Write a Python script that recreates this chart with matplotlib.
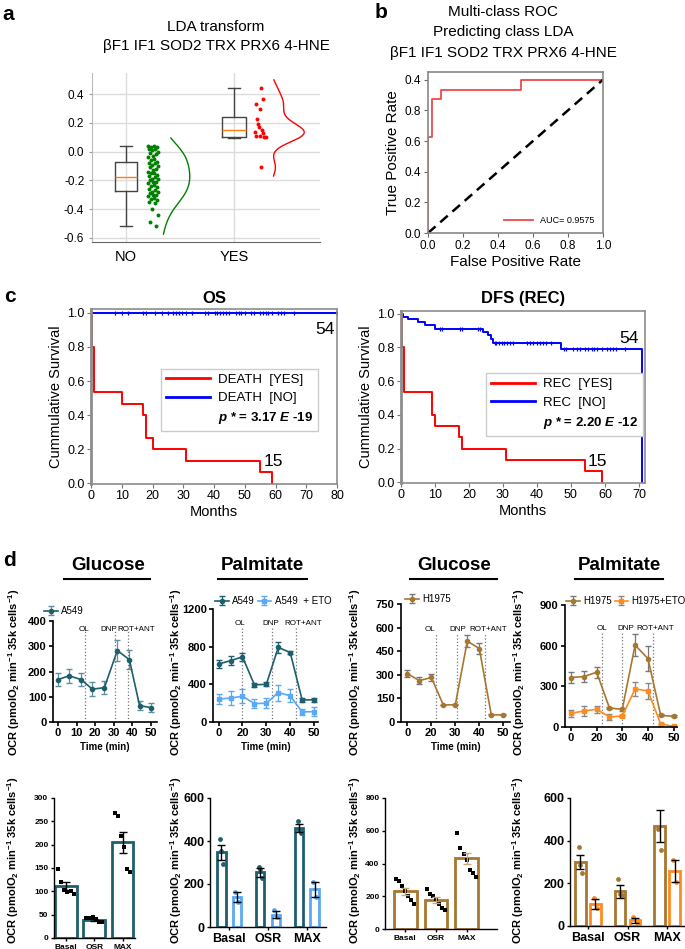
import numpy as np
import matplotlib
matplotlib.use('Agg')
import matplotlib.pyplot as plt
from matplotlib.lines import Line2D

plt.rcParams['font.family'] = ['Liberation Sans', 'DejaVu Sans']
plt.rcParams['axes.unicode_minus'] = False
plt.rcParams['mathtext.fontset'] = 'custom'
plt.rcParams['mathtext.rm'] = 'Liberation Sans'
plt.rcParams['mathtext.it'] = 'Liberation Sans:italic'
plt.rcParams['mathtext.bf'] = 'Liberation Sans:bold'
plt.rcParams['mathtext.bfit'] = 'Liberation Sans:italic:bold'

# ---------------- data ----------------
# a: LDA transform
lda_no = [0.04, 0.04, 0.03, 0.03, 0.02, 0.02, 0.01, 0.00, -0.01, -0.02, -0.03, -0.04,
          -0.05, -0.06, -0.07, -0.08, -0.08, -0.09, -0.10, -0.11, -0.12, -0.13, -0.14,
          -0.15, -0.15, -0.16, -0.17, -0.18, -0.19, -0.19, -0.20, -0.21, -0.21, -0.22,
          -0.23, -0.24, -0.25, -0.26, -0.27, -0.28, -0.28, -0.29, -0.30, -0.30, -0.31,
          -0.32, -0.33, -0.34, -0.35, -0.36, -0.40, -0.44, -0.49, -0.52]
lda_yes = [0.44, 0.37, 0.33, 0.30, 0.23, 0.19, 0.17, 0.15, 0.14, 0.13, 0.11, 0.11,
           0.10, 0.10, -0.11]
box_groups = ['NO', 'YES']
box_med = [-0.178, 0.151]
box_q1 = [-0.277, 0.105]
box_q3 = [-0.074, 0.244]
box_lo = [-0.521, 0.098]
box_hi = [0.040, 0.442]

# b: ROC
roc_fpr = [0, 0, 0.02, 0.02, 0.075, 0.075, 0.53, 0.53, 1.0]
roc_tpr = [0, 0.625, 0.625, 0.875, 0.875, 0.935, 0.935, 1.0, 1.0]

# c: Kaplan-Meier
os_yes_t = [0, 0.3, 1.1, 10, 17, 18, 20, 31, 55, 59]
os_yes_s = [1.0, 0.8, 0.533, 0.467, 0.4, 0.267, 0.2, 0.133, 0.067, 0.0]
os_no_t = [0, 80]
os_no_s = [1.0, 1.0]
os_no_cens = [7.8, 10, 11.9, 16.8, 17.8, 20.8, 23, 25, 26.8, 27.7, 28.7, 29.7, 30.8, 33,
              37.1, 38, 40.2, 41.1, 42, 42.9, 43.9, 44.9, 47, 48, 48.8, 50.1, 52, 53.1,
              54.8, 55.8, 56.9, 57.7, 58.8, 60.9, 61.9, 62.8, 65.9, 80]
dfs_yes_t = [0, 0.3, 1.0, 9, 10, 17, 18, 31, 54, 59]
dfs_yes_s = [1.0, 0.8, 0.533, 0.4, 0.333, 0.267, 0.2, 0.133, 0.067, 0.0]
dfs_no_t = [0, 0.5, 2.2, 5, 7, 10, 24, 25.7, 26.5, 27, 47, 71]
dfs_no_s = [1.0, 0.982, 0.967, 0.952, 0.935, 0.911, 0.893, 0.872, 0.85, 0.828, 0.79, 0.0]
dfs_no_cens = [11.5, 12, 17.4, 18, 22.7, 23.2, 27.6, 28.1, 28.9, 29.6, 30.4, 31.1, 32, 33,
               37, 37.9, 38.9, 39.9, 40.9, 41.9, 42.8, 44, 47.9, 48.7, 50.7, 51.9, 52.8,
               54.1, 55.1, 56.1, 56.9, 57.7, 59, 60.5, 61.5, 62.3, 63.2, 65.9]

# d: OCR time courses
g_a549_t = [0, 6, 12.5, 18.5, 25, 32, 38.5, 44, 50]
g_a549 = [168, 183, 168, 130, 136, 283, 247, 65, 57]
g_a549_e = [27, 28, 25, 27, 25, 43, 37, 18, 18]

p_a549 = [616, 651, 692, 395, 400, 792, 738, 235, 235]
p_a549_e = [45, 45, 45, 20, 20, 60, 12, 25, 25]
p_a549_eto = [245, 253, 274, 196, 199, 313, 278, 107, 110]
p_a549_eto_e = [55, 75, 75, 50, 55, 85, 70, 35, 45]

g_h1975 = [308, 263, 283, 108, 110, 514, 467, 45, 45]
g_h1975_e = [25, 20, 25, 3, 3, 38, 33, 3, 3]

p_h1975 = [365, 372, 404, 140, 131, 604, 505, 86, 79]
p_h1975_e = [40, 40, 40, 10, 10, 80, 90, 8, 8]
p_h1975_eto = [101, 118, 131, 74, 81, 281, 266, 22, 5]
p_h1975_eto_e = [25, 35, 25, 25, 10, 50, 60, 5, 5]

time_ticks = ['0', '20', '30', '40', '50']

# d: OCR summary bars
phases = ['Basal', 'OSR', 'MAX']
gb_a549 = [111, 39, 205]
gb_a549_e = [9, 2, 23]
gb_a549_pts = [[148, 121, 103, 99, 101, 94], [42, 43, 44, 40, 35, 34],
               [268, 262, 218, 196, 148, 141]]

pb_a549 = [347, 254, 460]
pb_a549_e = [35, 20, 18]
pb_a549_pts = [[408, 354, 291], [280, 268, 226], [491, 452, 436]]
pb_eto = [140, 58, 175]
pb_eto_e = [25, 17, 35]
pb_eto_pts = [[164, 117], [78, 47], [210, 140]]

gb_h1975 = [230, 177, 432]
gb_h1975_e = [22, 18, 35]
gb_h1975_pts = [[305, 295, 260, 235, 200, 175, 150], [243, 212, 200, 185, 155, 128, 118],
                [585, 495, 455, 420, 360, 340, 318]]

pb_h1975 = [300, 163, 470]
pb_h1975_e = [35, 30, 75]
pb_h1975_pts = [[368, 285, 250], [222, 150, 145], [455, 355]]
pb_h_eto = [103, 27, 258]
pb_h_eto_e = [22, 12, 50]
pb_h_eto_pts = [[130, 85], [40, 18], [310, 207]]

# ---------------- layout helpers ----------------
W, H = 685, 949
fig = plt.figure(figsize=(W / 100, H / 100), dpi=100)


def box(l, t, r, b):
    return fig.add_axes([l / W, 1 - b / H, (r - l) / W, (b - t) / H])


def ftext(x, y, s, **kw):
    kw.setdefault('ha', 'center')
    kw.setdefault('va', 'center')
    return fig.text(x / W, 1 - y / H, s, **kw)


def fline(x0, x1, y, lw=1.5):
    fig.add_artist(Line2D([x0 / W, x1 / W], [1 - y / H, 1 - y / H], color='black', lw=lw))


teal = '#1e5f6c'
lblue = '#5aa9f2'
brown = '#a8772f'
orange = '#ff8b1f'
ocr_label = r'OCR (pmolO$_{\mathbf{2}}$ min$^{\mathbf{-1}}$ 35k cells$^{\mathbf{-1}}$)'

# panel letters
ftext(8, 15, 'a', fontsize=15, fontweight='bold')
ftext(381, 13, 'b', fontsize=15, fontweight='bold')
ftext(10, 297, 'c', fontsize=15, fontweight='bold')
ftext(9, 560, 'd', fontsize=15, fontweight='bold')

# ---------------- a ----------------
ax = box(92, 73, 320, 242)
stats = []
for i in range(2):
    stats.append(dict(med=box_med[i], q1=box_q1[i], q3=box_q3[i],
                      whislo=box_lo[i], whishi=box_hi[i], fliers=[]))
ax.bxp(stats, positions=[0, 1], widths=[0.21, 0.22], showfliers=False, manage_ticks=False,
       boxprops=dict(color='#444444', lw=1), whiskerprops=dict(color='#444444', lw=1),
       capprops=dict(color='#444444', lw=1), medianprops=dict(color='#ff7f0e', lw=1))
jit_no = [0.20, 0.26, 0.23, 0.29, 0.21, 0.27, 0.24, 0.30, 0.22, 0.28, 0.25]
jit_yes = [1.25, 1.27, 1.20, 1.24, 1.21, 1.22, 1.23, 1.26, 1.19, 1.27, 1.20, 1.24, 1.28, 1.30, 1.25]
ax.scatter(np.resize(jit_no, len(lda_no)), lda_no, s=8, color='green', zorder=3, lw=0)
ax.scatter(jit_yes[:len(lda_yes)], lda_yes, s=8, color='red', zorder=3, lw=0)


def kde_curve(vals, lo, hi, bw, base, width, color):
    yy = np.linspace(lo, hi, 200)
    v = np.asarray(vals)
    d = np.exp(-0.5 * ((yy[:, None] - v[None, :]) / bw) ** 2).sum(axis=1)
    ax.plot(base + width * d / d.max(), yy, color=color, lw=1)


kde_curve(lda_no, -0.575, 0.095, 0.09, 0.325, 0.265, 'green')
kde_curve(lda_yes, -0.17, 0.50, 0.055, 1.345, 0.305, 'red')
ax.set_xlim(-0.315, 1.796)
ax.set_ylim(-0.63, 0.548)
ax.set_yticks([-0.6, -0.4, -0.2, 0.0, 0.2, 0.4])
ax.set_yticklabels(['-0.6', '-0.4', '-0.2', '0.0', '0.2', '0.4'])
ax.set_xticks([0, 1])
ax.set_xticklabels(box_groups, fontsize=10.5)
ax.grid(True, color='#dcdcdc', lw=1)
ax.set_axisbelow(True)
ax.tick_params(axis='y', labelsize=8.5, length=2, color='#999999')
ax.tick_params(axis='x', length=0, pad=6)
for s in ['top', 'right']:
    ax.spines[s].set_visible(False)
ax.spines['left'].set_color('#bbbbbb')
ax.spines['bottom'].set_color('#666666')
ftext(216, 27, 'LDA transform', fontsize=11)
ftext(216, 46, 'βF1 IF1 SOD2 TRX PRX6 4-HNE', fontsize=11)

# ---------------- b ----------------
ax = box(428, 72, 603, 233)
ax.plot(roc_fpr, roc_tpr, color='#ec4a4a', lw=1.3, label='AUC= 0.9575')
ax.plot([0, 1], [0, 1], '--', color='black', lw=1.8, dashes=(4, 2.5))
ax.set_xlim(0, 1.0)
ax.set_ylim(0, 1.05)
ax.set_xticks([0, 0.2, 0.4, 0.6, 0.8, 1.0])
ax.set_xticklabels(['0.0', '0.2', '0.4', '0.6', '0.8', '1.0'])
ax.set_yticks([0, 0.2, 0.4, 0.6, 0.8, 1.0])
ax.set_yticklabels(['0.0', '0.2', '0.4', '0.6', '0.8', '0.4'])
ax.tick_params(labelsize=8.5, length=3, color='#666666', pad=2)
for s in ax.spines.values():
    s.set_color('#888888')
    s.set_linewidth(1.2)
ax.set_xlabel('False Positive Rate', fontsize=11, labelpad=2)
ax.set_ylabel('True Positive Rate', fontsize=11, labelpad=3)
ax.legend(loc='lower right', fontsize=6.5, frameon=False, handlelength=3.2)
ftext(503, 12, 'Multi-class ROC', fontsize=11)
ftext(503, 32, 'Predicting class LDA', fontsize=11)
ftext(503, 53, 'βF1 IF1 SOD2 TRX PRX6 4-HNE', fontsize=11)


# ---------------- c ----------------
def km(ax, t, s, color, cens=None):
    ax.step(t, s, where='post', color=color, lw=1.4)
    if cens is not None:
        idx = np.searchsorted(t, cens, side='right') - 1
        ax.plot(cens, np.asarray(s)[np.minimum(idx, len(s) - 1)], '|', color=color, ms=3.5, mew=0.9)


def km_axes(ax, xmax, xt, ytop):
    ax.set_xlim(0, xmax)
    ax.set_ylim(-0.004, ytop)
    ax.set_xticks(xt)
    ax.set_yticks([0, 0.2, 0.4, 0.6, 0.8, 1.0])
    ax.set_yticklabels(['0.0', '0.2', '0.4', '0.6', '0.8', '1.0'])
    ax.tick_params(labelsize=9, length=3, color='#777777', pad=1.5)
    for s in ax.spines.values():
        s.set_color('#8c8c8c')
        s.set_linewidth(1.2)
    ax.spines['left'].set_linewidth(2)
    ax.set_xlabel('Months', fontsize=10.5, labelpad=2)
    ax.set_ylabel('Cummulative Survival', fontsize=10.5, labelpad=3)


def km_legend(ax, lab_yes, lab_no, ptxt, x0, y0):
    hs = [Line2D([], [], color='red', lw=2), Line2D([], [], color='blue', lw=2),
          Line2D([], [], color='none')]
    leg = ax.legend(hs, [lab_yes, lab_no, ptxt], loc='upper left', bbox_to_anchor=(x0, y0),
                    borderaxespad=0, fontsize=9.5, handlelength=3.3, handletextpad=0.6,
                    labelspacing=0.45, fancybox=False, edgecolor='#cccccc', framealpha=1)
    leg.get_texts()[2].set_fontweight('bold')


ax = box(91, 309, 337, 484)
km(ax, os_no_t, os_no_s, 'blue', os_no_cens)
km(ax, os_yes_t, os_yes_s, 'red')
km_axes(ax, 80, range(0, 81, 10), 1.023)
km_legend(ax, 'DEATH  [YES]', 'DEATH  [NO]', r'$\mathbfit{p}$ * = 3.17 $\mathbfit{E}$ -19', 0.285, 0.66)
ax.text(76, 0.9, '54', fontsize=12.5, ha='center', va='center')
ax.text(59.4, 0.13, '15', fontsize=12.5, ha='center', va='center')
ax.set_title('OS', fontsize=12, fontweight='bold', pad=4)

ax = box(401, 311, 645, 483)
km(ax, dfs_no_t, dfs_no_s, 'blue', dfs_no_cens)
km(ax, dfs_yes_t, dfs_yes_s, 'red')
km_axes(ax, 71.8, range(0, 71, 10), 1.015)
km_legend(ax, 'REC  [YES]', 'REC  [NO]', r'$\mathbfit{p}$ * = 2.20 $\mathbfit{E}$ -12', 0.348, 0.64)
ax.text(67.1, 0.855, '54', fontsize=12.5, ha='center', va='center')
ax.text(57.7, 0.125, '15', fontsize=12.5, ha='center', va='center')
ax.set_title('DFS (REC)', fontsize=12, fontweight='bold', pad=6)


# ---------------- d: time courses ----------------
def d_axes(ax, xlim, ylim, yt):
    ax.set_xlim(*xlim)
    ax.set_ylim(*ylim)
    ax.set_yticks(yt)
    for s in ['top', 'right']:
        ax.spines[s].set_visible(False)
    for s in ['left', 'bottom']:
        ax.spines[s].set_linewidth(1.2)
    ax.tick_params(labelsize=8, width=1.2, length=3, pad=1.5)
    plt.setp(ax.get_xticklabels() + ax.get_yticklabels(), fontweight='bold')


def inj(ax, xs, lx, ly, ytop):
    for x in xs:
        ax.plot([x, x], [0, ytop], ':', color='#777777', lw=0.9)
    for x, s in zip(lx, ['OL', 'DNP', 'ROT+ANT']):
        ax.text(x, ly, s, fontsize=5.8, ha='center', va='center')


def d_legend(ax, x, y, ncol):
    ax.legend(loc='center left', bbox_to_anchor=(x / W, 1 - y / H), bbox_transform=fig.transFigure,
              ncol=ncol, frameon=False, fontsize=7, handlelength=1.4, handletextpad=0.35,
              columnspacing=0.3, borderpad=0, borderaxespad=0)


idx = np.arange(9)

ax = box(53, 621, 157, 722)
ax.errorbar(g_a549_t, g_a549, yerr=g_a549_e, color=teal, ecolor='#5f8f98', marker='o', ms=3,
            lw=1.2, capsize=2, elinewidth=0.9, label='A549')
inj(ax, [14.4, 30.5, 37.5], [13.9, 27.5, 42], 367, 362)
ax.set_xticks([0, 10, 20, 30, 40, 50])
d_axes(ax, (-2.7, 53.4), (0, 400), [0, 100, 200, 300, 400])
ax.set_xlabel('Time (min)', fontsize=7, fontweight='bold', labelpad=3)
d_legend(ax, 44, 611, 1)

ax = box(213, 609, 318, 722)
ax.errorbar(idx, p_a549, yerr=p_a549_e, color=teal, ecolor=teal, marker='o', ms=3,
            lw=1.2, capsize=2, elinewidth=0.9, label='A549')
ax.errorbar(idx, p_a549_eto, yerr=p_a549_eto_e, color=lblue, ecolor=lblue, marker='s', ms=3,
            lw=1.2, capsize=2, elinewidth=0.9, label='A549  + ETO')
inj(ax, [2.0, 4.5, 6.45], [1.8, 4.4, 7.1], 1050, 1000)
ax.set_xticks([0, 2, 4, 6, 8])
ax.set_xticklabels(time_ticks)
d_axes(ax, (-0.47, 8.33), (0, 1200), [0, 400, 800, 1200])
ax.set_xlabel('Time (min)', fontsize=7, fontweight='bold', labelpad=3)
d_legend(ax, 215, 601, 2)

ax = box(401, 604, 510, 722)
ax.errorbar(idx, g_h1975, yerr=g_h1975_e, color=brown, ecolor='#777777', marker='o', ms=3,
            lw=1.2, capsize=2, elinewidth=0.9, label='H1975')
inj(ax, [2.36, 4.17, 6.47], [1.92, 4.2, 6.75], 588, 560)
ax.set_xticks([0, 2, 4, 6, 8])
ax.set_xticklabels(time_ticks)
d_axes(ax, (-0.53, 8.56), (0, 750), [0, 150, 300, 450, 600, 750])
ax.set_xlabel('Time (min)', fontsize=7, fontweight='bold', labelpad=3)
d_legend(ax, 405, 599, 1)

ax = box(565, 605, 677, 727)
ax.errorbar(idx, p_h1975, yerr=p_h1975_e, color=brown, ecolor='#777777', marker='o', ms=3,
            lw=1.2, capsize=2, elinewidth=0.9, label='H1975')
ax.errorbar(idx, p_h1975_eto, yerr=p_h1975_eto_e, color=orange, ecolor='#888888', marker='s', ms=3,
            lw=1.2, capsize=2, elinewidth=0.9, label='H1975+ETO')
inj(ax, [2.4, 4.0, 6.38], [2.45, 4.3, 6.55], 727, 690)
ax.set_xticks([0, 2, 4, 6, 8])
ax.set_xticklabels(time_ticks)
d_axes(ax, (-0.47, 8.27), (0, 900), [0, 300, 600, 900])
d_legend(ax, 566, 601, 2)

# titles with underline
for cx, x0, x1, s in [(108, 64, 150, 'Glucose'), (262, 218, 307, 'Palmitate'),
                      (454, 410, 497, 'Glucose'), (619, 575, 663, 'Palmitate')]:
    ftext(cx, 565, s, fontsize=13.5, fontweight='bold')
    fline(x0, x1, 579)

# ---------------- d: bars ----------------
def bar_axes(ax, xlim, ylim, yt, fs):
    ax.set_xlim(*xlim)
    ax.set_ylim(*ylim)
    ax.set_yticks(yt)
    ax.set_xticks(range(3))
    ax.set_xticklabels(phases)
    for s in ['top', 'right']:
        ax.spines[s].set_visible(False)
    for s in ['left', 'bottom']:
        ax.spines[s].set_linewidth(1.0)
    ax.tick_params(labelsize=fs, width=1, length=2.5, pad=1.5)
    plt.setp(ax.get_xticklabels() + ax.get_yticklabels(), fontweight='bold')


def bars(ax, x, vals, err, pts, color, width, ecol, pcol, marker, spread, psize):
    ax.bar(x, vals, width=width, facecolor='white', edgecolor=color, lw=2, zorder=1)
    for i, p in enumerate(pts):
        ax.scatter(x[i] + np.linspace(-spread, spread, len(p)), p, s=psize, color=pcol,
                   marker=marker, zorder=3, lw=0)
    ax.errorbar(x, vals, yerr=err, fmt='none', ecolor=ecol, capsize=3, elinewidth=1, zorder=4)


x3 = np.arange(3)

ax = box(54, 798, 135, 938)
bars(ax, x3, gb_a549, gb_a549_e, gb_a549_pts, teal, 0.77, 'black', 'black', 's', 0.28, 9)
bar_axes(ax, (-0.42, 2.44), (0, 300), [0, 50, 100, 150, 200, 250, 300], 6)

ax = box(210, 798, 326, 927)
bars(ax, x3 - 0.2, pb_a549, pb_a549_e, pb_a549_pts, teal, 0.22, 'black', teal, 'o', 0.04, 12)
bars(ax, x3 + 0.2, pb_eto, pb_eto_e, pb_eto_pts, lblue, 0.22, 'black', lblue, 'o', 0.04, 12)
bar_axes(ax, (-0.49, 2.49), (0, 600), [0, 200, 400, 600], 9)

ax = box(385, 798, 497, 929)
bars(ax, x3, gb_h1975, gb_h1975_e, gb_h1975_pts, brown, 0.74, '#c9a877', 'black', 's', 0.3, 9)
bar_axes(ax, (-0.66, 2.99), (0, 800), [0, 200, 400, 600, 800], 6)

ax = box(570, 798, 685, 926)
bars(ax, x3 - 0.19, pb_h1975, pb_h1975_e, pb_h1975_pts, brown, 0.27, 'black', brown, 'o', 0.04, 12)
bars(ax, x3 + 0.19, pb_h_eto, pb_h_eto_e, pb_h_eto_pts, orange, 0.27, 'black', orange, 'o', 0.04, 12)
bar_axes(ax, (-0.45, 2.45), (0, 600), [0, 200, 400, 600], 9)

# y labels for panel d
for x, yc in [(14, 672), (176, 672), (355, 672), (519, 672),
              (13, 860), (176, 860), (355, 860), (518, 860)]:
    ftext(x, yc, ocr_label, fontsize=8, fontweight='bold', rotation=90)

fig.savefig('out.png', dpi=100)
